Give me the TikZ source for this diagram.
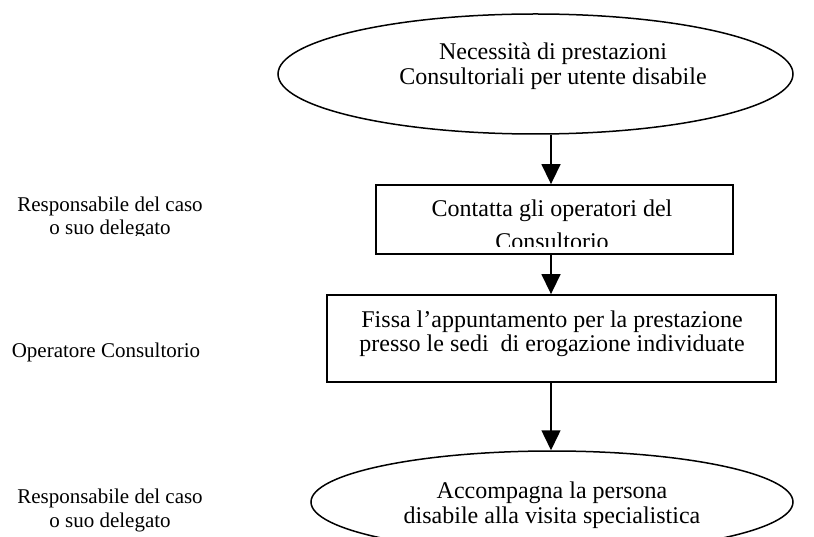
\documentclass[tikz,border=0pt]{standalone}
\usepackage{fontspec}
\setmainfont{Liberation Serif}
\usetikzlibrary{arrows.meta,shapes.geometric}
\tikzset{
  ellshape/.style={draw, ellipse, line width=1.5pt, inner sep=0pt},
  boxshape/.style={draw, rectangle, line width=1.8pt, inner sep=0pt},
  txt/.style={font=\fontsize{24}{26}\selectfont, anchor=base, inner sep=0pt},
  lbl/.style={font=\fontsize{21}{23}\selectfont, anchor=base, inner sep=0pt},
  arr/.style={-{Triangle[length=20pt,width=19pt]}, line width=1.5pt}
}
\begin{document}
\begin{tikzpicture}[x=1pt,y=-1pt]
\useasboundingbox (0,0) rectangle (814,537);
\clip (0,0) rectangle (814,537);
% shapes
\node[ellshape, minimum width=515pt, minimum height=120pt] (e1) at (535.5,74) {};
\node[boxshape, minimum width=357pt, minimum height=69pt] (b1) at (554.5,219.5) {};
\node[boxshape, minimum width=449pt, minimum height=87pt] (b2) at (551.5,338.5) {};
\node[ellshape, minimum width=482pt, minimum height=102pt] (e2) at (552,502) {};
% texts in shapes
\node[txt] (e1a) at (553,60) {Necessità di prestazioni};
\node[txt] (e1b) at (553,85) {Consultoriali per utente disabile};
\node[txt] (b1a) at (552,217) {Contatta gli operatori del};
\begin{scope}
\clip (0,0) rectangle (814,247);
\node[txt] (b1b) at (552,250) {Consultorio};
\end{scope}
\node[txt] (b2a) at (552,327) {Fissa l’appuntamento per la prestazione};
\node[txt] (b2b) at (552,352) {presso le sedi\ \ di erogazione individuate};
\node[txt] (e2a) at (552,498) {Accompagna la persona};
\node[txt] (e2b) at (552,523) {disabile alla visita specialistica};
% left labels
\node[lbl] (l1a) at (110,212) {Responsabile del caso};
\begin{scope}
\clip (0,0) rectangle (814,236);
\node[lbl] (l1b) at (110,235) {o suo delegato};
\end{scope}
\node[lbl] (l2) at (106,357) {Operatore Consultorio};
\node[lbl] (l3a) at (110,503) {Responsabile del caso};
\node[lbl] (l3b) at (110,527) {o suo delegato};
% arrows
\coordinate (ax) at (551,0);
\draw[arr] (ax |- e1.south) -- (ax |- b1.north);
\draw[arr] (ax |- b1.south) -- (ax |- b2.north);
\draw[arr] (ax |- b2.south) -- (ax |- e2.north);
\end{tikzpicture}
\end{document}
